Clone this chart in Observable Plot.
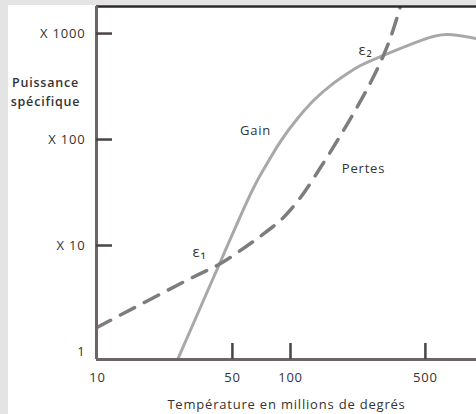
<!DOCTYPE html>
<html><head><meta charset="utf-8">
<script src="https://cdn.jsdelivr.net/npm/d3@7"></script>
<script src="https://cdn.jsdelivr.net/npm/@observablehq/plot@0.6"></script>
<style>
html,body{margin:0;padding:0;background:#e4e4e4;width:476px;height:414px;overflow:hidden}
#panel{position:absolute;left:8px;top:5px;width:468px;height:409px;background:#fff}
#panel svg text{letter-spacing:0.8px}
</style></head><body><div id="panel"></div>
<script>
// Gain (solid) — température (millions de degrés) vs puissance spécifique
const gainT = [26.0, 39.9, 43.4, 59.9, 72.5, 88.8, 108.7, 131.6, 161.2, 197.3, 230.5, 292.7, 472, 650, 920];
const gainP = [0.84, 4.99, 7.07, 26.6, 52.1, 96.0, 157.8, 233.3, 323, 419, 499, 607, 859, 979, 897];
// Pertes (dashed)
const pertesT = [9.88, 30.3, 43.4, 59.9, 74.2, 90.9, 112.7, 143, 175, 212, 260, 300, 330, 371];
const pertesP = [1.68, 4.88, 6.76, 10.0, 13.3, 18.0, 28.4, 54.4, 97.9, 176, 345, 594, 917, 1798];
// Axes
const xTicks = [10, 50, 100, 500];
const xTickLabels = ["10", "50", "100", "500"];
const xTickMarks = [50, 100, 500];
const yTicks = [1, 10, 100, 1000];
const yTickLabels = ["1", "X 10", "X 100", "X 1000"];
const yTickMarks = [10, 100, 1000];
const xDomain = [9.88, 920];
const yDomain = [0.84, 1800];
// Annotations
const annT = [65.9, 239];
const annP = [122, 53.3];
const annText = ["Gain", "Pertes"];
const epsT = [33.8, 245];
const epsP = [8.59, 691];
const epsText = ["ε₁", "ε₂"];

const gain = gainT.map((t, i) => ({t, p: gainP[i]}));
const pertes = pertesT.map((t, i) => ({t, p: pertesP[i]}));
const ann = annT.map((t, i) => ({t, p: annP[i], text: annText[i]}));
const eps = epsT.map((t, i) => ({t, p: epsP[i], text: epsText[i]}));
const xt = xTicks.map((v, i) => ({v, label: xTickLabels[i]}));
const yt = yTicks.map((v, i) => ({v, label: yTickLabels[i]}));

const font = "'Open Sans', 'Liberation Sans', sans-serif";
const axisColor = "#6d6565";
const textColor = "#333333";

const chart = Plot.plot({
  width: 468,
  height: 409,
  marginLeft: 88,
  marginRight: 0,
  marginTop: 1,
  marginBottom: 55,
  style: {fontFamily: font, fontSize: "13px", background: "transparent", overflow: "visible"},
  x: {type: "log", domain: xDomain, axis: null},
  y: {type: "log", domain: yDomain, axis: null},
  marks: [
    Plot.line(gain, {x: "t", y: "p", stroke: "#a8a8a8", strokeWidth: 3, curve: "natural", clip: true}),
    Plot.line(pertes, {x: "t", y: "p", stroke: "#7d7d7d", strokeWidth: 3.5, strokeDasharray: "16,11", curve: "catmull-rom", clip: true}),
    Plot.ruleY([yDomain[1]], {stroke: "#2e2828", strokeWidth: 2.5}),
    Plot.ruleX([xDomain[0]], {stroke: axisColor, strokeWidth: 3}),
    Plot.ruleY([yDomain[0]], {stroke: axisColor, strokeWidth: 3}),
    Plot.ruleX(xTickMarks, {x: d => d, y1: yDomain[0], y2: yDomain[0], insetTop: -16, stroke: "#4a4444", strokeWidth: 2.5}),
    Plot.ruleY(yTickMarks, {y: d => d, x1: xDomain[0], x2: xDomain[0], insetRight: -16, stroke: "#4a4444", strokeWidth: 2.5}),
    Plot.text(xt, {x: "v", y: () => yDomain[0], text: "label", dy: 18, fill: textColor, fontSize: 13}),
    Plot.text(yt, {x: () => xDomain[0], y: "v", text: "label", dx: -11, textAnchor: "end", fill: textColor, fontSize: 13}),
    Plot.text(ann, {x: "t", y: "p", text: "text", fill: textColor, fontSize: 13}),
    Plot.text(eps, {x: "t", y: "p", text: "text", fill: textColor, fontSize: 15}),
    Plot.text(["Puissance\nspécifique"], {frameAnchor: "left", textAnchor: "middle", dx: -51, dy: -93, lineHeight: 1.55, fill: textColor, fontSize: 12.5, fontWeight: 600}),
    Plot.text(["Température en millions de degrés"], {frameAnchor: "bottom", textAnchor: "middle", dy: 49, fill: textColor, fontSize: 13})
  ]
});
document.getElementById("panel").appendChild(chart);
</script></body></html>
